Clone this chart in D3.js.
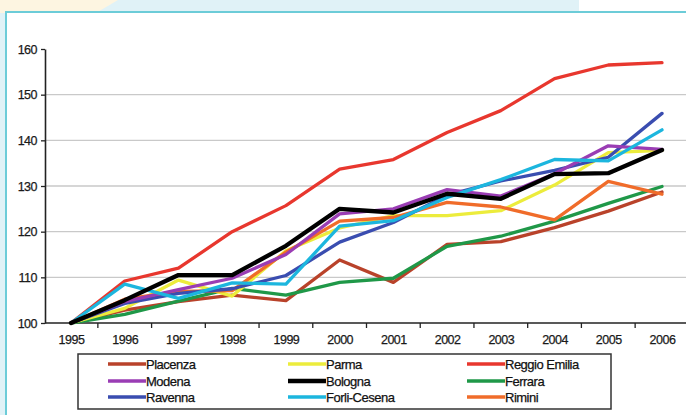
<!DOCTYPE html>
<html><head><meta charset="utf-8">
<script src="https://cdn.jsdelivr.net/npm/d3@7"></script>
<style>
html,body{margin:0;padding:0;background:#fff;}
svg{display:block;font-family:"Liberation Sans",Arial,sans-serif;}
</style></head>
<body><svg id="c" width="686" height="415"></svg>
<script>
const years = ["1995","1996","1997","1998","1999","2000","2001","2002","2003","2004","2005","2006"];
const yTicks = [100,110,120,130,140,150,160];
const gridTicks = [110,120,130,140,150];
const names = ["Placenza","Parma","Reggio Emilia","Modena","Bologna","Ferrara","Ravenna","Forli-Cesena","Rimini"];
const colors = ["#b9422a","#ecec3c","#e8372e","#9a3db4","#000000","#1f9848","#3a4db0","#1cb6de","#f06c2a"];
const widths = [3.3,3.3,3.3,3.3,4.3,3.3,3.3,3.3,3.3];
const placenza   = [100,102.8,104.7,106.1,104.9,113.8,108.9,117.2,117.8,120.9,124.5,128.7];
const parma      = [100,103.2,109.4,105.9,115.8,120.8,123.5,123.5,124.6,130.2,137.3,137.8];
const reggio     = [100,109.2,112.0,120.0,125.7,133.7,135.8,141.7,146.5,153.5,156.5,157.0];
const modena     = [100,104.7,107.3,109.8,115.0,123.9,125.0,129.2,127.8,132.7,138.8,138.0];
const bologna    = [100,105.0,110.5,110.5,116.9,125.0,124.2,128.3,127.2,132.6,132.8,137.9];
const ferrara    = [100,101.9,104.8,107.6,106.1,108.9,109.8,116.8,119.0,122.3,126.2,129.9];
const ravenna    = [100,104.3,106.5,107.5,110.4,117.7,122.0,128.0,131.1,133.4,136.3,145.9];
const forli      = [100,108.5,105.4,108.8,108.5,121.2,122.4,127.5,131.4,135.8,135.5,142.3];
const rimini     = [100,105.2,106.9,107.1,115.5,122.3,123.1,126.4,125.4,122.6,131.0,128.2];
const series = [placenza,parma,reggio,modena,bologna,ferrara,ravenna,forli,rimini];
// drawing order: back to front
const order = [0,5,2,1,8,6,3,7,4];

const svg = d3.select("#c");
// background decoration
svg.append("rect").attr("x",0).attr("y",0).attr("width",686).attr("height",415).attr("fill","#e0f2f7");
svg.append("rect").attr("x",579).attr("y",0).attr("width",107).attr("height",13).attr("fill","#ffffff");
svg.append("path").attr("d","M0,0 L118,0 L96,13 L0,13 Z").attr("fill","#fdf5e1");
svg.append("rect").attr("x",6).attr("y",12).attr("width",690).attr("height",410).attr("fill","#ffffff")
  .attr("stroke","#6cccd8").attr("stroke-width",2);

const x = d3.scalePoint().domain(years).range([71,662]);
const step = x.step();
const y = d3.scaleLinear().domain([100,160]).range([323,49]);

// grid
svg.append("g").selectAll("line").data(gridTicks).join("line")
  .attr("x1",45).attr("x2",686).attr("y1",d=>y(d)).attr("y2",d=>y(d))
  .attr("stroke","#c9c9c9").attr("stroke-width",1.3);

// y axis
const yAxis = svg.append("g").attr("transform","translate(45,0)")
  .call(d3.axisLeft(y).tickValues(yTicks).tickSize(4).tickSizeOuter(0));
yAxis.select(".domain").attr("stroke","#222").attr("stroke-width",1.6);
yAxis.selectAll(".tick line").attr("stroke","#222").attr("stroke-width",1.3);
yAxis.selectAll(".tick text").attr("font-size",12.5).attr("fill","#1a1a1a").attr("stroke","#1a1a1a").attr("stroke-width",0.25).attr("x",-8).attr("letter-spacing","-0.5");

// x axis (category axis with ticks between categories)
const xBand = d3.scaleBand().domain(years).range([71-step/2, 662+step/2]);
const xAxis = svg.append("g").attr("transform","translate(0,323)")
  .call(d3.axisBottom(x).tickSize(0).tickPadding(12));
xAxis.select(".domain").remove();
xAxis.selectAll(".tick text").attr("font-size",12.5).attr("fill","#1a1a1a").attr("stroke","#1a1a1a").attr("stroke-width",0.25).attr("letter-spacing","-0.5");
svg.append("line").attr("x1",45).attr("x2",686).attr("y1",323).attr("y2",323).attr("stroke","#222").attr("stroke-width",1.6);
svg.append("g").selectAll("line").data(years.slice(1)).join("line")
  .attr("x1",d=>xBand(d)).attr("x2",d=>xBand(d)).attr("y1",323).attr("y2",328)
  .attr("stroke","#222").attr("stroke-width",1.3);

// lines
const line = d3.line().x((d,i)=>x(years[i])).y(d=>y(d));
svg.append("g").selectAll("path").data(order).join("path")
  .attr("d",k=>line(series[k])).attr("fill","none")
  .attr("stroke",k=>colors[k]).attr("stroke-width",k=>widths[k])
  .attr("stroke-linejoin","round").attr("stroke-linecap","round");

// legend
const lg = svg.append("g");
lg.append("rect").attr("x",78).attr("y",354).attr("width",533).attr("height",55)
  .attr("fill","#fff").attr("stroke","#333").attr("stroke-width",1.5);
const colX = [108,288,467];
const rowY = [364,381,397];
names.forEach((n,i)=>{
  const cx = colX[i%3], cy = rowY[Math.floor(i/3)];
  lg.append("line").attr("x1",cx).attr("x2",cx+38).attr("y1",cy).attr("y2",cy)
    .attr("stroke",colors[i]).attr("stroke-width",widths[i]);
  lg.append("text").attr("x",cx+38).attr("y",cy).attr("dy","0.36em")
    .attr("font-size",13).attr("fill","#111").attr("stroke","#111").attr("stroke-width",0.25)
    .attr("letter-spacing","-0.5").text(n);
});
</script></body></html>
